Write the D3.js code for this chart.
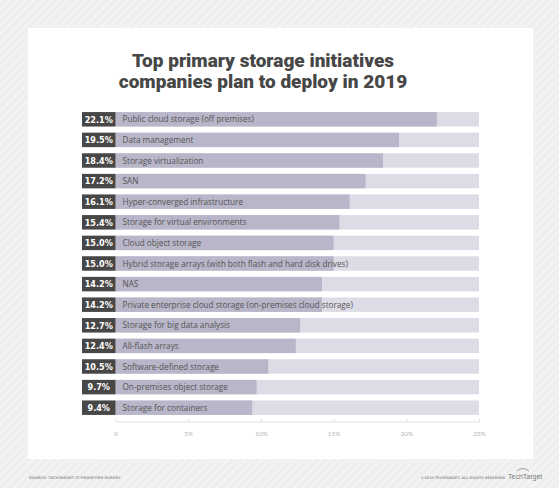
<!DOCTYPE html>
<html>
<head>
<meta charset="utf-8">
<script src="https://cdn.jsdelivr.net/npm/d3@7"></script>
<style>
  body { margin: 0; background: #f1f1f1; }
  svg { display: block; }
</style>
</head>
<body>
<svg id="chart" width="559" height="488"></svg>
<script>
// survey answers, top to bottom
var initiatives = [
    "Public cloud storage (off premises)",
    "Data management",
    "Storage virtualization",
    "SAN",
    "Hyper-converged infrastructure",
    "Storage for virtual environments",
    "Cloud object storage",
    "Hybrid storage arrays (with both flash and hard disk drives)",
    "NAS",
    "Private enterprise cloud storage (on-premises cloud storage)",
    "Storage for big data analysis",
    "All-flash arrays",
    "Software-defined storage",
    "On-premises object storage",
    "Storage for containers"
];
var shares = [22.1, 19.5, 18.4, 17.2, 16.1, 15.4, 15.0, 15.0, 14.2, 14.2, 12.7, 12.4, 10.5, 9.7, 9.4];
var axisTicks = [0, 5, 10, 15, 20, 25];
var titleLines = ["Top primary storage initiatives", "companies plan to deploy in 2019"];

var svg = d3.select("#chart");

// striped backdrop
var defs = svg.append("defs");
var pat = defs.append("pattern")
    .attr("id", "stripes")
    .attr("width", 6).attr("height", 6)
    .attr("patternUnits", "userSpaceOnUse")
    .attr("patternTransform", "rotate(45)");
pat.append("rect").attr("width", 6).attr("height", 6).attr("fill", "#efefef");
pat.append("line").attr("x1", 0).attr("y1", 0).attr("x2", 0).attr("y2", 6)
    .attr("stroke", "#f8f8f8").attr("stroke-width", 2);

svg.append("rect").attr("width", 559).attr("height", 488).attr("fill", "url(#stripes)");
svg.append("rect").attr("x", 28).attr("y", 28).attr("width", 505).attr("height", 431).attr("fill", "#ffffff");

// title
svg.selectAll("text.title")
    .data(titleLines)
    .enter()
    .append("text")
    .attr("class", "title")
    .attr("x", 263)
    .attr("y", function (d, i) { return 67 + i * 21; })
    .attr("text-anchor", "middle")
    .style("font-family", "Roboto, sans-serif")
    .style("font-weight", "900")
    .style("font-size", "19px")
    .style("fill", "#474747")
    .text(function (d) { return d; });

// scales
var x = d3.scaleLinear().domain([0, 25]).range([115.5, 479]);
var y = d3.scaleBand().domain(initiatives).range([109, 418]).paddingInner(0.3).paddingOuter(0.15);

var boxLeft = 82;

var rows = svg.append("g").selectAll("g")
    .data(initiatives)
    .enter()
    .append("g");

// light track
rows.append("rect")
    .attr("x", boxLeft)
    .attr("y", function (d) { return y(d); })
    .attr("width", x(25) - boxLeft)
    .attr("height", y.bandwidth())
    .attr("fill", "#dddbe6");

// value bar
rows.append("rect")
    .attr("x", x(0))
    .attr("y", function (d) { return y(d); })
    .attr("width", function (d, i) { return x(shares[i]) - x(0); })
    .attr("height", y.bandwidth())
    .attr("fill", "#b8b6c8");

// dark value box
rows.append("rect")
    .attr("x", boxLeft)
    .attr("y", function (d) { return y(d); })
    .attr("width", x(0) - boxLeft)
    .attr("height", y.bandwidth())
    .attr("fill", "#474747");

rows.append("text")
    .attr("x", (boxLeft + x(0)) / 2)
    .attr("y", function (d) { return y(d) + y.bandwidth() / 2 + 3.3; })
    .attr("text-anchor", "middle")
    .style("font-family", "'DejaVu Sans Condensed', 'DejaVu Sans', sans-serif")
    .style("font-weight", "700")
    .style("font-size", "9px")
    .style("fill", "#ffffff")
    .text(function (d, i) { return shares[i].toFixed(1) + "%"; });

rows.append("text")
    .attr("x", x(0) + 7)
    .attr("y", function (d) { return y(d) + y.bandwidth() / 2 + 3; })
    .style("font-family", "'Open Sans', sans-serif")
    .style("font-size", "8.2px")
    .style("fill", "#555555")
    .text(function (d) { return d; });

// axis
var axis = svg.append("g")
    .attr("transform", "translate(0,422)")
    .call(d3.axisTop(x).tickValues(axisTicks).tickSize(3)
        .tickFormat(function (d) { return d === 0 ? "0" : d + "%"; }));
axis.select(".domain").attr("stroke", "#e2e2e2").attr("d", "M" + x(0) + ",0H" + x(25));
axis.selectAll(".tick line").attr("stroke", "#e2e2e2");
axis.selectAll(".tick text")
    .attr("y", 14)
    .style("font-family", "Lato, sans-serif")
    .style("font-size", "6.5px")
    .style("fill", "#b5b5b5");

// footer
svg.append("text")
    .attr("x", 29).attr("y", 478.5)
    .style("font-family", "'DejaVu Sans', sans-serif")
    .style("font-size", "3.6px")
    .style("font-weight", "700")
    .style("fill", "#9a9a9a")
    .text("SOURCE: TECHTARGET IT PRIORITIES SURVEY");

svg.append("text")
    .attr("x", 505).attr("y", 478.5)
    .attr("text-anchor", "end")
    .style("font-family", "'DejaVu Sans', sans-serif")
    .style("font-size", "3.4px")
    .style("font-weight", "700")
    .style("fill", "#9a9a9a")
    .text("©2019 TECHTARGET. ALL RIGHTS RESERVED");

svg.append("text")
    .attr("x", 508).attr("y", 479)
    .style("font-family", "'Liberation Sans Narrow', 'Liberation Sans', sans-serif")
    .style("font-size", "7px")
    .style("fill", "#7a7a7a")
    .text("TechTarget");
svg.append("path")
    .attr("d", "M517,471 Q523,466 529,471")
    .attr("fill", "none")
    .attr("stroke", "#888")
    .attr("stroke-width", 0.8);
</script>
</body>
</html>
